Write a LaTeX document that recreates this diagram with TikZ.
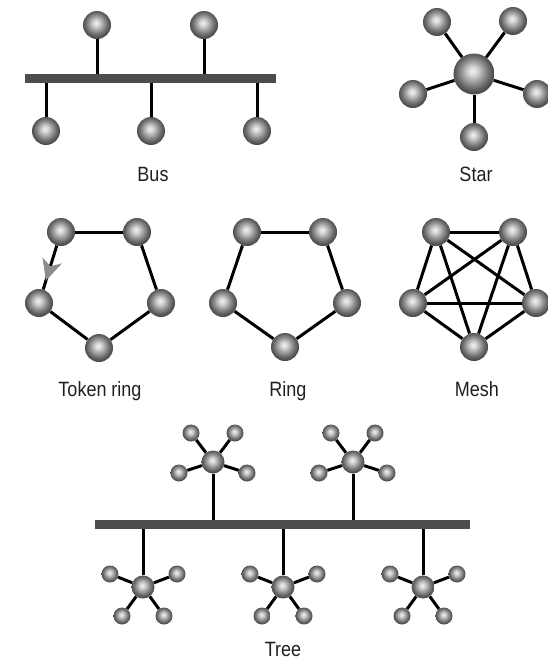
\documentclass[tikz,border=0pt]{standalone}
\usepackage{fontspec}
\setmainfont{Liberation Sans}
\usetikzlibrary{arrows.meta,decorations.markings}
\definecolor{barc}{HTML}{4D4D4D}
\pgfdeclareradialshading{sphere}{\pgfpoint{-2bp}{4bp}}{color(0bp)=(white!94!black); color(5bp)=(white!85!black); color(14bp)=(black!42); color(21bp)=(black!62); color(25bp)=(black!70); color(50bp)=(black!70)}
\newcommand{\lbltext}[1]{\scalebox{1}[1.15]{#1}}
\begin{document}
\begin{tikzpicture}[x=1pt,y=-1pt,
  sph/.style={circle,inner sep=0pt,minimum size=#1,shading=sphere},
  sph/.default=28,
  link/.style={line width=3pt,black},
  busbar/.style={rectangle,fill=barc,inner sep=0pt},
  lbl/.style={anchor=base,inner sep=0pt,font=\fontsize{18}{20}\selectfont,text=black!88}]
\useasboundingbox (0,0) rectangle (547,659);

% ---------- Bus ----------
\node[busbar,minimum width=251pt,minimum height=9pt] (bus) at (150.5,78.5) {};
\node[sph] (b1) at (97,25) {};
\node[sph] (b2) at (204,25) {};
\node[sph] (b3) at (46,131) {};
\node[sph] (b4) at (151,131) {};
\node[sph] (b5) at (257,131) {};
\draw[link] (b1) -- (b1 |- bus.north);
\draw[link] (b2) -- (b2 |- bus.north);
\draw[link] (b3) -- (b3 |- bus.south);
\draw[link] (b4) -- (b4 |- bus.south);
\draw[link] (b5) -- (b5 |- bus.south);
\node[lbl] (lbus) at (153,181.5) {\lbltext{Bus}};

% ---------- Star ----------
\node[sph=41] (s0) at (474,74) {};
\node[sph] (s1) at (437,22) {};
\node[sph] (s2) at (513,21) {};
\node[sph] (s3) at (413,94) {};
\node[sph] (s4) at (537,94) {};
\node[sph] (s5) at (474,137) {};
\foreach \s in {s1,s2,s3,s4,s5} \draw[link] (s0) -- (\s);
\node[lbl] (lstar) at (476,181) {\lbltext{Star}};

% ---------- Token ring ----------
\node[sph] (t1) at (61,232) {};
\node[sph] (t2) at (137,232) {};
\node[sph] (t3) at (39,303) {};
\node[sph] (t4) at (161,303) {};
\node[sph] (t5) at (99,348) {};
\draw[link] (t1) -- (t2);
\draw[link] (t2) -- (t4);
\draw[link] (t4) -- (t5);
\draw[link] (t5) -- (t3);
\draw[link,postaction={decorate,decoration={markings,
   mark=at position 0.8 with {\arrow[black!45]{Stealth[length=21pt,width=20pt,inset=6pt]}}}}] (t1) -- (t3);
\node[lbl] (ltok) at (100,396.5) {\lbltext{Token ring}};

% ---------- Ring ----------
\node[sph] (r1) at (247,232) {};
\node[sph] (r2) at (323,232) {};
\node[sph] (r3) at (223,303) {};
\node[sph] (r4) at (347,303) {};
\node[sph] (r5) at (285,347) {};
\draw[link] (r1) -- (r2);
\draw[link] (r2) -- (r4);
\draw[link] (r4) -- (r5);
\draw[link] (r5) -- (r3);
\draw[link] (r3) -- (r1);
\node[lbl] (lring) at (288,396.5) {\lbltext{Ring}};

% ---------- Mesh ----------
\node[sph] (m1) at (436,232) {};
\node[sph] (m2) at (513,232) {};
\node[sph] (m3) at (413,303) {};
\node[sph] (m4) at (536,303) {};
\node[sph] (m5) at (474,347) {};
\foreach \a/\b in {m1/m2,m1/m3,m1/m4,m1/m5,m2/m3,m2/m4,m2/m5,m3/m4,m3/m5,m4/m5}
  \draw[link] (\a) -- (\b);
\node[lbl] (lmesh) at (477,396.5) {\lbltext{Mesh}};

% ---------- Tree ----------
\node[busbar,minimum width=375pt,minimum height=9pt] (tbus) at (282.5,524.5) {};
\node[sph=23] (h1) at (213,462) {};
\node[sph=23] (h2) at (353,462) {};
\node[sph=23] (h3) at (143,587) {};
\node[sph=23] (h4) at (283,587) {};
\node[sph=23] (h5) at (423,587) {};
\foreach \h in {h1,h2}{
  \draw[link] (\h) -- (\h |- tbus.north);
  \foreach \n/\dx/\dy in {a/-22/-29,b/22/-29,c/-34/11,d/34/11}{
    \node[sph=17] (\h\n) at ([shift={(\dx,\dy)}]\h) {};
    \draw[link] (\h) -- (\h\n);
  }
}
\foreach \h in {h3,h4,h5}{
  \draw[link] (\h) -- (\h |- tbus.south);
  \foreach \n/\dx/\dy in {a/-33/-13,b/34/-13,c/-21/29,d/21/29}{
    \node[sph=17] (\h\n) at ([shift={(\dx,\dy)}]\h) {};
    \draw[link] (\h) -- (\h\n);
  }
}
\node[lbl] (ltree) at (283,656) {\lbltext{Tree}};
\end{tikzpicture}
\end{document}
